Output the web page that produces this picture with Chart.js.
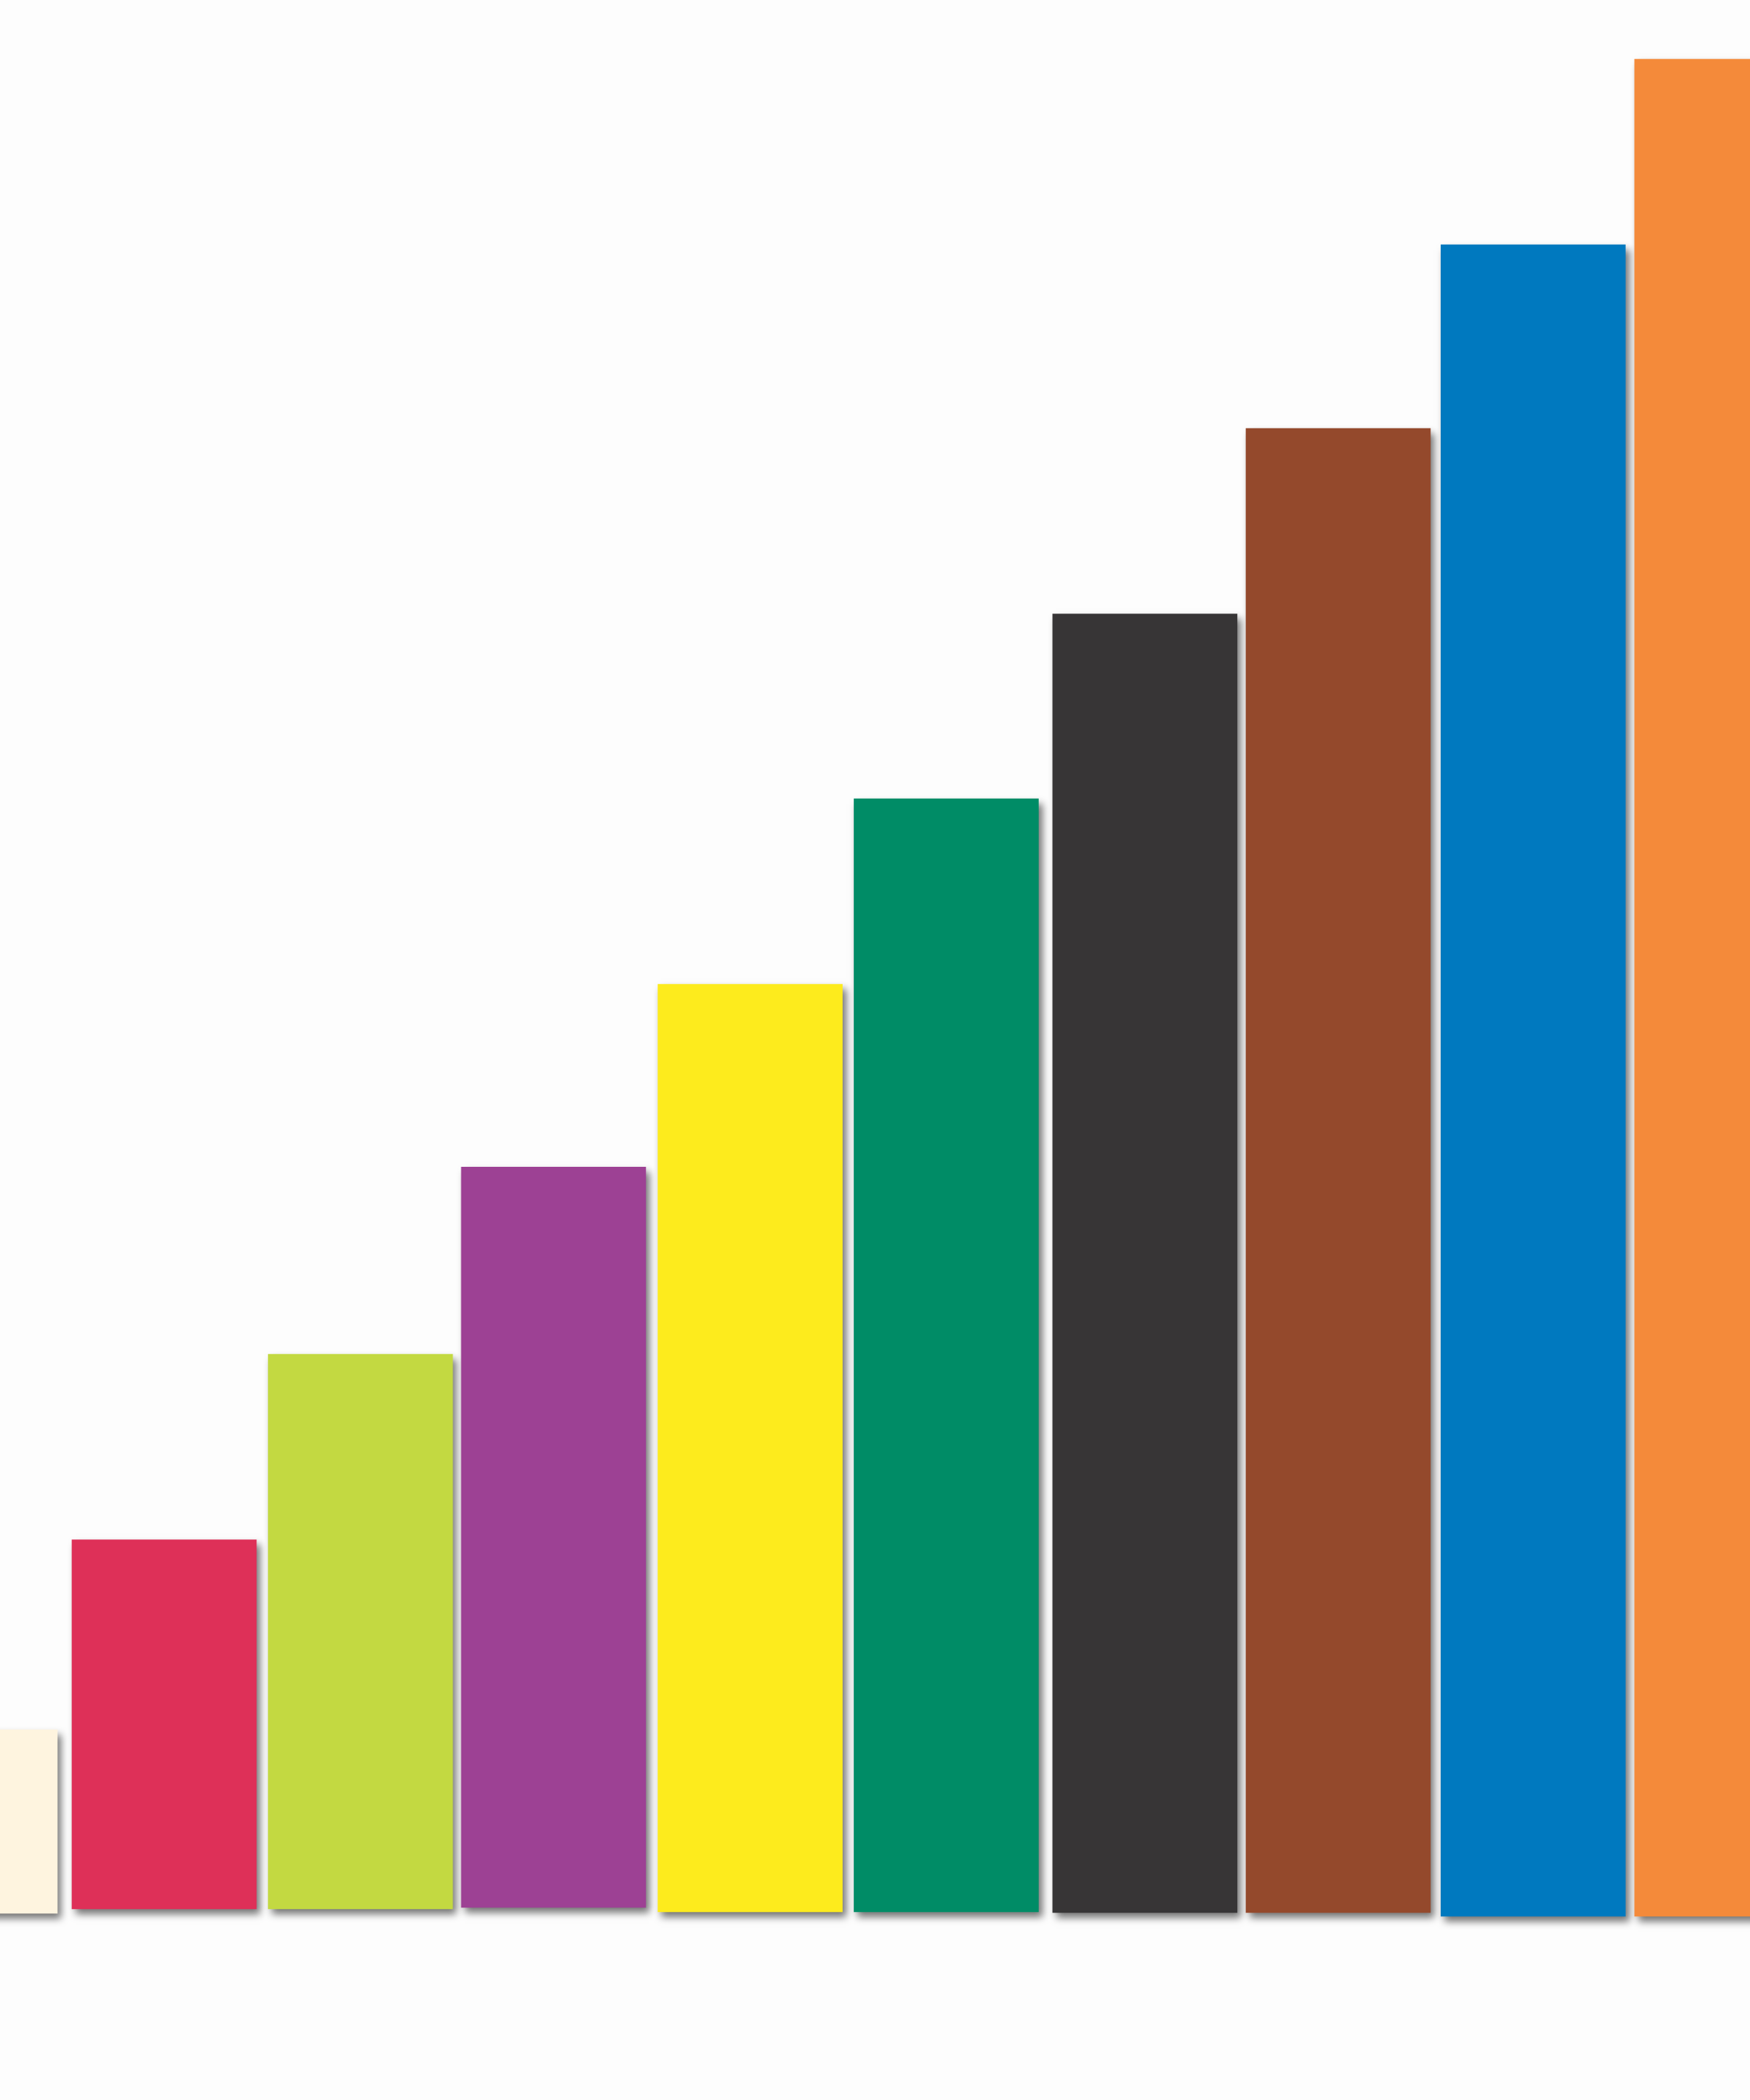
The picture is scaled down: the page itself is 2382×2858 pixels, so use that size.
<!DOCTYPE html>
<html>
<head>
<meta charset="utf-8">
<title>Rods</title>
<script src="https://cdn.jsdelivr.net/npm/chart.js@4.4.1/dist/chart.umd.min.js"></script>
<style>
    html, body {
        margin: 0;
        padding: 0;
        background: #fdfdfd;
        overflow: hidden;
    }
    .chart-wrap {
        position: relative;
        width: 2382px;
        height: 2858px;
    }
</style>
</head>
<body>
<div class="chart-wrap">
    <canvas id="rods-chart"></canvas>
</div>
<script>
// Rod names (left to right)
const rodNames = ['white', 'red', 'light green', 'purple', 'yellow', 'dark green', 'black', 'brown', 'blue', 'orange'];

// Rod centres along the table, in cm (first and last rods are cut by the frame)
const rodPositions = [-0.188, 0.885, 1.943, 2.984, 4.044, 5.101, 6.172, 7.214, 8.265, 9.309];

// Rod lengths in cm
const rodLengths = [0.99, 1.99, 2.99, 3.99, 5.00, 6.00, 7.00, 8.00, 9.01, 10.01];

// Where each rod's foot sits relative to the table line, in cm
const rodBases = [-0.016, 0.008, 0.008, 0.016, -0.008, -0.008, -0.012, -0.012, -0.032, -0.032];

const rodColors = ['#fef4df', '#de3058', '#c3d941', '#9d4194', '#fdeb1d', '#008c66', '#373536', '#94492c', '#0079bf', '#f48a3a'];

// Visible window of the photo, in cm
const xRange = [0, 9.434];
const yRange = [-1.022, 10.297];

// Soft drop shadow under the rods
const rodShadow = {
    id: 'rodShadow',
    beforeDatasetsDraw(chart) {
        const ctx = chart.ctx;
        ctx.save();
        ctx.shadowColor = 'rgba(0, 0, 0, 0.55)';
        ctx.shadowBlur = 10;
        ctx.shadowOffsetX = 5;
        ctx.shadowOffsetY = 7;
    },
    afterDatasetsDraw(chart) {
        chart.ctx.restore();
    }
};

function buildRodData() {
    return rodNames.map((name, i) => ({
        x: rodPositions[i],
        y: [rodBases[i], rodBases[i] + rodLengths[i]]
    }));
}

function initRodChart() {
    const canvas = document.getElementById('rods-chart');
    if (typeof Chart === 'undefined') {
        console.error('Chart.js not loaded');
        return null;
    }

    return new Chart(canvas.getContext('2d'), {
        type: 'bar',
        data: {
            datasets: [{
                label: 'Rods',
                data: buildRodData(),
                backgroundColor: rodColors,
                borderWidth: 0,
                borderSkipped: false,
                barThickness: 251
            }]
        },
        options: {
            responsive: true,
            maintainAspectRatio: false,
            animation: false,
            layout: { padding: 0 },
            plugins: {
                legend: { display: false },
                tooltip: { enabled: false }
            },
            scales: {
                x: {
                    type: 'linear',
                    min: xRange[0],
                    max: xRange[1],
                    offset: false,
                    display: false
                },
                y: {
                    min: yRange[0],
                    max: yRange[1],
                    display: false
                }
            }
        },
        plugins: [rodShadow]
    });
}

initRodChart();
</script>
</body>
</html>
